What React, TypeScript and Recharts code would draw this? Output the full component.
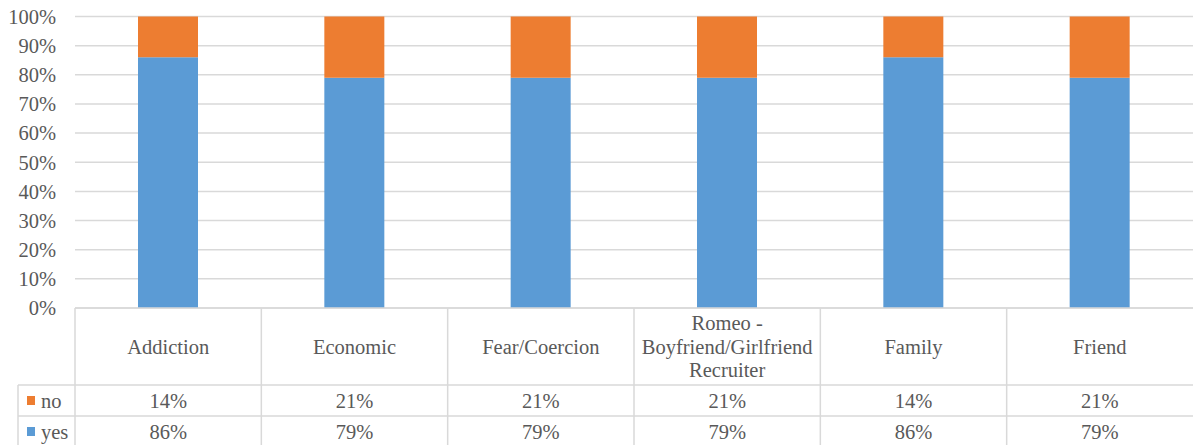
import React from "react";
import { BarChart, Bar, XAxis, YAxis, CartesianGrid } from "recharts";

const categories = [
  "Addiction",
  "Economic",
  "Fear/Coercion",
  "Romeo - Boyfriend/Girlfriend Recruiter",
  "Family",
  "Friend",
];
const yesValues = [86, 79, 79, 79, 86, 79];
const noValues = [14, 21, 21, 21, 14, 21];
const yTicks = [0, 10, 20, 30, 40, 50, 60, 70, 80, 90, 100];

const data = categories.map((name, i) => ({ name, yes: yesValues[i], no: noValues[i] }));

const W = 1193;
const H = 445;
const PLOT_LEFT = 75;
const PLOT_TOP = 16.5;
const PLOT_BOTTOM = 308;
const ROW1 = 385;
const ROW2 = 416;
const LEGEND_LEFT = 18;
const COL_W = (W - PLOT_LEFT) / categories.length;

const BLUE = "#5B9BD5";
const ORANGE = "#ED7D31";
const GRID = "#d9d9d9";
const TEXT = "#595959";
const FONT = '"Liberation Serif", "Times New Roman", serif';
const FS = 20.5;

function wrap(text: string, max = 22) {
  const words = text.split(" ");
  const lines: string[] = [];
  let cur = "";
  for (const w of words) {
    if (cur && (cur + " " + w).length > max) {
      lines.push(cur);
      cur = w;
    } else {
      cur = cur ? cur + " " + w : w;
    }
  }
  if (cur) lines.push(cur);
  return lines;
}

const txtStyle = { fontFamily: FONT, fontSize: FS };

function TableTick(props: any) {
  const { x, payload, index } = props;
  const lines = wrap(String(payload.value));
  const lh = 23.5;
  const headMid = (PLOT_BOTTOM + ROW1) / 2;
  const left = x - COL_W / 2;
  const rows = [
    { name: "no", color: ORANGE, vals: noValues, mid: (ROW1 + ROW2) / 2 },
    { name: "yes", color: BLUE, vals: yesValues, mid: (ROW2 + H) / 2 + 1 },
  ];
  return (
    <g>
      {index === 0 && (
        <g>
          <line x1={LEGEND_LEFT} x2={W} y1={ROW1} y2={ROW1} stroke={GRID} strokeWidth={1.5} />
          <line x1={LEGEND_LEFT} x2={W} y1={ROW2} y2={ROW2} stroke={GRID} strokeWidth={1.5} />
          <line x1={LEGEND_LEFT} x2={LEGEND_LEFT} y1={ROW1} y2={H} stroke={GRID} strokeWidth={1.5} />
          {rows.map((r) => (
            <g key={r.name}>
              <rect x={27} y={r.mid - 4.5} width={8} height={9} fill={r.color} />
              <text x={41} y={r.mid} dy="0.35em" fill={TEXT} style={txtStyle}>
                {r.name}
              </text>
            </g>
          ))}
        </g>
      )}
      <line x1={left} x2={left} y1={PLOT_BOTTOM} y2={H} stroke={GRID} strokeWidth={1.5} />
      {lines.map((l, i) => (
        <text
          key={i}
          x={x}
          y={headMid + (i - (lines.length - 1) / 2) * lh}
          dy="0.35em"
          textAnchor="middle"
          fill={TEXT}
          style={txtStyle}
        >
          {l}
        </text>
      ))}
      {rows.map((r) => (
        <text key={r.name} x={x} y={r.mid} dy="0.35em" textAnchor="middle" fill={TEXT} style={txtStyle}>
          {r.vals[index]}%
        </text>
      ))}
    </g>
  );
}

export default function App() {
  return (
    <div
      style={{
        position: "absolute",
        left: 0,
        top: 0,
        width: W,
        height: H,
        background: "#fff",
        fontFamily: FONT,
      }}
    >
      <BarChart
        width={W}
        height={H}
        data={data}
        margin={{ top: PLOT_TOP, right: 0, left: 0, bottom: 0 }}
        barSize={60}
        style={{ fontFamily: FONT }}
      >
        <CartesianGrid vertical={false} stroke={GRID} strokeWidth={1.5} />
        <XAxis
          dataKey="name"
          interval={0}
          tickLine={false}
          axisLine={{ stroke: GRID, strokeWidth: 1.5 }}
          tick={<TableTick />}
          height={H - PLOT_BOTTOM}
        />
        <YAxis
          width={PLOT_LEFT}
          domain={[0, 100]}
          ticks={yTicks}
          interval={0}
          tickFormatter={(v: number) => `${v}%`}
          axisLine={false}
          tickLine={false}
          tickSize={0}
          tickMargin={19}
          tick={{ fontSize: FS, fill: TEXT, fontFamily: FONT, style: txtStyle }}
        />
        <Bar dataKey="yes" stackId="a" fill={BLUE} isAnimationActive={false} />
        <Bar dataKey="no" stackId="a" fill={ORANGE} isAnimationActive={false} />
      </BarChart>
    </div>
  );
}
